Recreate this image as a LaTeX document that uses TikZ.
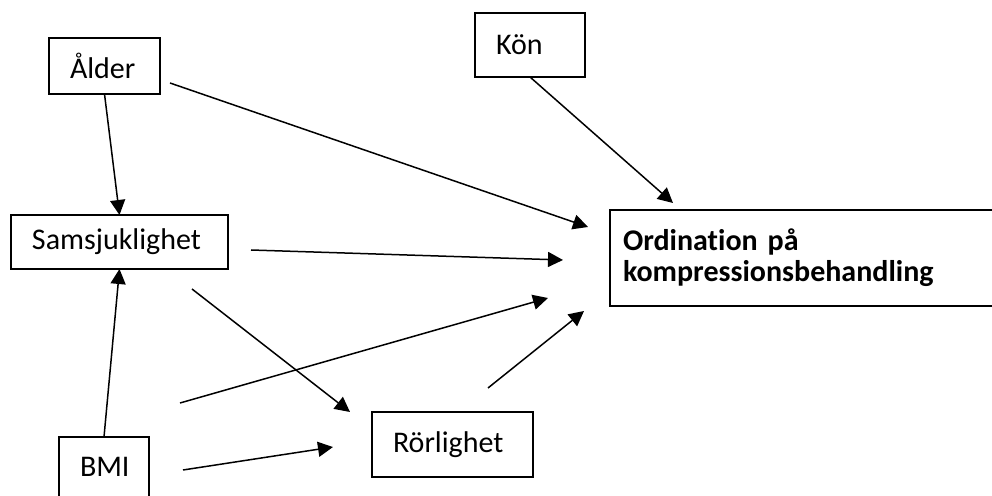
\documentclass[tikz,border=0pt]{standalone}
\usepackage{fontspec}
\setmainfont{Carlito}[Ligatures=NoCommon]
\usepackage{tikz}
\usetikzlibrary{arrows.meta}

\begin{document}
\begin{tikzpicture}[>={Triangle[length=7.5pt,width=7.5pt]},x=0.5pt,y=-0.5pt,
    box/.style={draw,line width=0.8pt,anchor=north west,inner xsep=10.5pt,inner ysep=0pt,outer sep=0pt,align=left,font=\fontsize{15}{15.5}\selectfont},
    arr/.style={->,line width=0.75pt}]
      \clip (0,0) rectangle (992,496);
      \useasboundingbox (0,0) rectangle (992,496);
      \node[box,text width=34.5pt,minimum height=28pt] (alder) at (49,38) {Ålder};
      \node[box,text width=34pt,minimum height=32pt] (kon) at (475,13) {Kön};
      \node[box,text width=87.5pt,minimum height=27pt] (sams) at (11,215) {Samsjuklighet};
      \node[box,text width=24pt,minimum height=30pt] (bmi) at (59,437) {BMI};
      \node[box,text width=59.5pt,minimum height=32.5pt] (rorl) at (372,412) {Rörlighet};
      \node[box,inner xsep=6.5pt,text width=182pt,minimum height=48pt,font=\fontsize{15}{15.5}\selectfont\bfseries] (ord) at (610,210) {Ordination på\\kompressionsbehandling};
      \draw[arr] ([shift={(10,17)}]alder.east) -- ([shift={(-22,17)}]ord.north west);
      \draw[arr] (alder.south) -- (sams.north);
      \draw[arr] (kon.south) -- ([shift={(63,-7)}]ord.north west);
      \draw[arr] ([shift={(23,8)}]sams.east) -- ([shift={(-47,2)}]ord.west);
      \draw[arr] ([shift={(-36,20)}]sams.south east) -- ([shift={(-22,0)}]rorl.north west);
      \draw[arr] (bmi.north) -- (sams.south);
      \draw[arr] ([shift={(31,-34)}]bmi.north east) -- ([shift={(-62,-8)}]ord.south west);
      \draw[arr] ([shift={(34,3)}]bmi.east) -- ([shift={(-39,2.5)}]rorl.west);
      \draw[arr] ([shift={(35.5,-24)}]rorl.north) -- ([shift={(-26,5)}]ord.south west);
    \end{tikzpicture}
\end{document}
